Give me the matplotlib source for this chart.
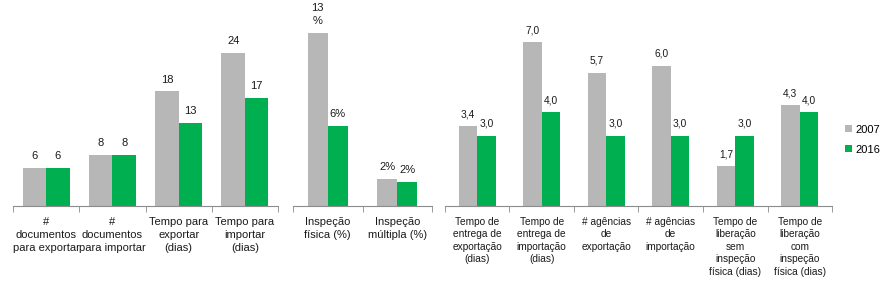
import matplotlib
matplotlib.use('Agg')
import numpy as np
import matplotlib.pyplot as plt

plt.rcParams['font.family'] = ['Liberation Sans', 'DejaVu Sans']

gray = '#b7b7b7'
green = '#00b050'
axis_col = '#8c8c8c'

# left panel
cat_a = ['#\ndocumentos\npara exportar', '#\ndocumentos\npara importar',
         'Tempo para\nexportar\n(dias)', 'Tempo para\nimportar\n(dias)']
a_2007 = [6, 8, 18, 24]
a_2016 = [6, 8, 13, 17]
lab_a_2007 = ['6', '8', '18', '24']
lab_a_2016 = ['6', '8', '13', '17']

# middle panel (%)
cat_b = ['Inspeção\nfísica (%)', 'Inspeção\nmúltipla (%)']
b_2007 = [13, 2.0]
b_2016 = [6, 1.8]
lab_b_2007 = ['13\n%', '2%']
lab_b_2016 = ['6%', '2%']

# right panel
cat_c = ['Tempo de\nentrega de\nexportação\n(dias)', 'Tempo de\nentrega de\nimportação\n(dias)',
         '# agências\nde\nexportação', '# agências\nde\nimportação',
         'Tempo de\nliberação\nsem\ninspeção\nfísica (dias)',
         'Tempo de\nliberação\ncom\ninspeção\nfísica (dias)']
c_2007 = [3.4, 7.0, 5.7, 6.0, 1.7, 4.3]
c_2016 = [3.0, 4.0, 3.0, 3.0, 3.0, 4.0]
lab_c_2007 = ['3,4', '7,0', '5,7', '6,0', '1,7', '4,3']
lab_c_2016 = ['3,0', '4,0', '3,0', '3,0', '3,0', '4,0']

fig = plt.figure(figsize=(8.93, 2.82), dpi=100)


def panel(rect, cats, v1, v2, l1, l2, w, ymax, fs, ls):
    ax = fig.add_axes(rect)
    x = np.arange(len(cats))
    b1 = ax.bar(x - w / 2, v1, w, color=gray, label='2007')
    b2 = ax.bar(x + w / 2, v2, w, color=green, label='2016')
    for bars, labs in ((b1, l1), (b2, l2)):
        for b, s in zip(bars, labs):
            ax.annotate(s, (b.get_x() + b.get_width() / 2, b.get_height()),
                        xytext=(0, 5), textcoords='offset points',
                        ha='center', va='bottom', fontsize=fs,
                        linespacing=1.4, color='#1a1a1a')
    ax.set_xlim(-0.5, len(cats) - 0.5)
    ax.set_ylim(0, ymax)
    for s in ['top', 'right', 'left']:
        ax.spines[s].set_visible(False)
    ax.spines['bottom'].set_color(axis_col)
    ax.set_yticks([])
    ax.set_xticks(x)
    ax.set_xticklabels(cats, fontsize=fs, linespacing=ls, color='#1a1a1a')
    ax.set_xticks(np.arange(len(cats) + 1) - 0.5, minor=True)
    ax.tick_params(axis='x', which='major', length=0, pad=8)
    ax.tick_params(axis='x', which='minor', length=4, color=axis_col)
    return ax


panel([0.0146, 0.27, 0.2968, 0.73], cat_a, a_2007, a_2016, lab_a_2007, lab_a_2016,
      0.355, 32.4, 8, 1.4)
panel([0.3281, 0.27, 0.1557, 0.73], cat_b, b_2007, b_2016, lab_b_2007, lab_b_2016,
      0.29, 15.5, 8, 1.4)
ax3 = panel([0.4983, 0.27, 0.4334, 0.73], cat_c, c_2007, c_2016, lab_c_2007, lab_c_2016,
            0.29, 8.8, 7.3, 1.3)

h, l = ax3.get_legend_handles_labels()
fig.legend(h, l, loc='center left', bbox_to_anchor=(0.935, 0.505), frameon=False,
           fontsize=8, handlelength=0.6, handleheight=0.6, handletextpad=0.3,
           labelspacing=0.9)

fig.savefig('out.png', dpi=100)
